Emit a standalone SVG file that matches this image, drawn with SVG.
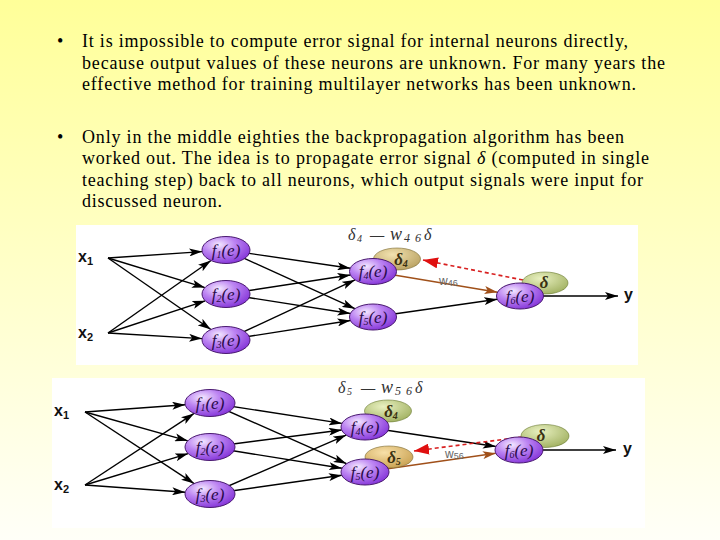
<svg xmlns="http://www.w3.org/2000/svg" width="720" height="540" viewBox="0 0 720 540">
<defs>
  <linearGradient id="bg" x1="0" y1="0" x2="0" y2="1">
    <stop offset="0" stop-color="#FFFF99"/>
    <stop offset="0.45" stop-color="#FFFFC4"/>
    <stop offset="1" stop-color="#FFFFF8"/>
  </linearGradient>
  <radialGradient id="purple" cx="0.35" cy="0.3" r="0.75">
    <stop offset="0" stop-color="#F4E8FF"/>
    <stop offset="0.45" stop-color="#BC84F2"/>
    <stop offset="1" stop-color="#8434D8"/>
  </radialGradient>
  <radialGradient id="tan" cx="0.4" cy="0.3" r="0.75">
    <stop offset="0" stop-color="#F2E2B0"/>
    <stop offset="1" stop-color="#B8A060"/>
  </radialGradient>
  <radialGradient id="green" cx="0.4" cy="0.3" r="0.75">
    <stop offset="0" stop-color="#E8F0C0"/>
    <stop offset="1" stop-color="#A0B060"/>
  </radialGradient>
  <radialGradient id="orange" cx="0.4" cy="0.3" r="0.75">
    <stop offset="0" stop-color="#F8E0A8"/>
    <stop offset="1" stop-color="#C8A050"/>
  </radialGradient>
  <marker id="ab" markerUnits="userSpaceOnUse" markerWidth="14" markerHeight="8" refX="13" refY="4" orient="auto">
    <path d="M0,0 L13,4 L0,8 L3,4 z" fill="#000"/>
  </marker>
  <marker id="abr" markerUnits="userSpaceOnUse" markerWidth="14" markerHeight="8" refX="13" refY="4" orient="auto">
    <path d="M0,0 L13,4 L0,8 L3,4 z" fill="#A0501A"/>
  </marker>
  <marker id="ared" markerUnits="userSpaceOnUse" markerWidth="16" markerHeight="11" refX="15" refY="5.5" orient="auto">
    <path d="M0,0 L15,5.5 L0,11 z" fill="#E01010"/>
  </marker>
</defs>
<style>
  .txt { font-family: "Liberation Serif", "Times New Roman", serif; font-size: 18px; fill: #000; }
  .lbl { font-family: "Liberation Sans", Arial, sans-serif; font-weight: bold; font-size: 16px; fill: #111; }
  .fn { font-family: "Liberation Serif", serif; font-style: italic; font-size: 17px; fill: #2A0A4A; text-anchor: middle; }
  .dl { font-family: "Liberation Serif", serif; font-style: italic; font-weight: bold; font-size: 17px; fill: #3A3010; text-anchor: middle; }
  .form { font-family: "Liberation Serif", serif; font-style: italic; font-size: 16px; fill: #333; }
  .w { font-family: "Liberation Sans", sans-serif; font-size: 12px; fill: #666; }
  .node { fill: url(#purple); stroke: #4A1A70; stroke-width: 1; }
  .c { stroke: #000; stroke-width: 1.4; fill: none; marker-end: url(#ab); }
  .cb { stroke: #A0501A; stroke-width: 1.6; fill: none; marker-end: url(#abr); }
  .cr { stroke: #D82020; stroke-width: 1.6; fill: none; stroke-dasharray: 4 3; marker-end: url(#ared); }
</style>

<rect x="0" y="0" width="720" height="540" fill="url(#bg)"/>

<g id="text">
  <text class="txt" x="57" y="47">•</text>
  <text class="txt" x="82" y="47" textLength="546" lengthAdjust="spacing">It is impossible to compute error signal for internal neurons directly,</text>
  <text class="txt" x="82" y="69" textLength="583" lengthAdjust="spacing">because output values of these neurons are unknown. For many years the</text>
  <text class="txt" x="82" y="90" textLength="554" lengthAdjust="spacing">effective method for training multilayer networks has been unknown.</text>
  <text class="txt" x="57" y="143">•</text>
  <text class="txt" x="82" y="143" textLength="542" lengthAdjust="spacing">Only in the middle eighties the backpropagation algorithm has been</text>
  <text class="txt" x="82" y="164" textLength="567" lengthAdjust="spacing">worked out. The idea is to propagate error signal <tspan font-style="italic">δ</tspan> (computed in single</text>
  <text class="txt" x="82" y="186" textLength="561" lengthAdjust="spacing">teaching step) back to all neurons, which output signals were input for</text>
  <text class="txt" x="82" y="207" textLength="140" lengthAdjust="spacing">discussed neuron.</text>
</g>

<!-- Diagram 1 -->
<rect x="76" y="225" width="562" height="140" fill="#FFFFFF"/>
<g id="d1-connectors">
  <line class="c" x1="108" y1="258" x2="202.2" y2="251.6"/>
  <line class="c" x1="108" y1="258" x2="204.9" y2="287.6"/>
  <line class="c" x1="108" y1="258" x2="210.9" y2="329.5"/>
  <line class="c" x1="108" y1="333" x2="211" y2="260.5"/>
  <line class="c" x1="108" y1="333" x2="205.3" y2="300.8"/>
  <line class="c" x1="108" y1="333" x2="202.1" y2="338.6"/>
  <line class="c" x1="226" y1="250" x2="350.3" y2="268.2"/>
  <line class="c" x1="226" y1="250" x2="354.9" y2="308.7"/>
  <line class="c" x1="226" y1="294" x2="350.4" y2="275"/>
  <line class="c" x1="226" y1="294" x2="350.4" y2="313.5"/>
  <line class="c" x1="226" y1="340" x2="355" y2="279.9"/>
  <line class="c" x1="226" y1="340" x2="350.4" y2="320.5"/>
  <line class="cb" x1="373" y1="271.5" x2="497.5" y2="292.2"/>
  <line class="c" x1="373" y1="317" x2="497.2" y2="299.3"/>
  <line class="c" x1="520" y1="296" x2="618" y2="296"/>
  <line class="cr" x1="523" y1="280" x2="423" y2="260"/>
  <text class="w" x="439" y="285">w<tspan font-size="9" dy="1">46</tspan></text>
</g>
<g id="d1-labels">
  <text class="lbl" x="78" y="262">x<tspan font-size="11" dy="3">1</tspan></text>
  <text class="lbl" x="78" y="338">x<tspan font-size="11" dy="3">2</tspan></text>
  <text class="lbl" x="624" y="300">y</text>
  <text class="form" y="240"><tspan x="348">δ</tspan><tspan x="357" font-size="10" dy="2">4</tspan><tspan x="370" dy="-2">—</tspan><tspan x="390" font-size="18">w</tspan><tspan x="404" font-size="12" dy="2" textLength="17">46</tspan><tspan x="424" dy="-2">δ</tspan></text>
</g>
<g id="d1-delta4">
  <ellipse cx="397" cy="259" rx="23.5" ry="11" fill="url(#tan)" stroke="#7A6A30" stroke-width="0.6"/>
  <text class="dl" x="401" y="265">δ<tspan font-size="10" dy="2">4</tspan></text>
</g>
<g id="d1-delta">
  <ellipse cx="545" cy="283" rx="23" ry="11" fill="url(#green)" stroke="#6A7A30" stroke-width="0.6"/>
  <text class="dl" x="544" y="288">δ</text>
</g>
<g id="d1-f1"><ellipse class="node" cx="226" cy="250" rx="24" ry="13.5"/><text class="fn" x="226" y="255.5">f<tspan font-size="10" dy="2">1</tspan><tspan dy="-2">(e)</tspan></text></g>
<g id="d1-f2"><ellipse class="node" cx="226" cy="294" rx="24" ry="13.5"/><text class="fn" x="226" y="299.5">f<tspan font-size="10" dy="2">2</tspan><tspan dy="-2">(e)</tspan></text></g>
<g id="d1-f3"><ellipse class="node" cx="226" cy="340" rx="24" ry="13.5"/><text class="fn" x="226" y="345.5">f<tspan font-size="10" dy="2">3</tspan><tspan dy="-2">(e)</tspan></text></g>
<g id="d1-f4"><ellipse class="node" cx="373" cy="271.5" rx="23.5" ry="13"/><text class="fn" x="373" y="277">f<tspan font-size="10" dy="2">4</tspan><tspan dy="-2">(e)</tspan></text></g>
<g id="d1-f5"><ellipse class="node" cx="373" cy="317" rx="23.5" ry="13"/><text class="fn" x="373" y="322.5">f<tspan font-size="10" dy="2">5</tspan><tspan dy="-2">(e)</tspan></text></g>
<g id="d1-f6"><ellipse class="node" cx="520" cy="296" rx="23.5" ry="13"/><text class="fn" x="520" y="301.5">f<tspan font-size="10" dy="2">6</tspan><tspan dy="-2">(e)</tspan></text></g>

<!-- Diagram 2 -->
<rect x="52" y="378" width="593" height="150" fill="#FFFFFF"/>
<g id="d2-connectors">
  <line class="c" x1="85" y1="412" x2="185.2" y2="404.8"/>
  <line class="c" x1="85" y1="412" x2="187.8" y2="440.8"/>
  <line class="c" x1="85" y1="412" x2="194.1" y2="483.6"/>
  <line class="c" x1="85" y1="485" x2="194.1" y2="413.4"/>
  <line class="c" x1="85" y1="485" x2="188.2" y2="453.6"/>
  <line class="c" x1="85" y1="485" x2="185.2" y2="492.2"/>
  <line class="c" x1="210" y1="403" x2="341.9" y2="423.4"/>
  <line class="c" x1="210" y1="403" x2="346.5" y2="463.7"/>
  <line class="c" x1="210" y1="447" x2="341.7" y2="430"/>
  <line class="c" x1="210" y1="447" x2="342" y2="468.3"/>
  <line class="c" x1="210" y1="494" x2="346.2" y2="435.1"/>
  <line class="c" x1="210" y1="494" x2="341.8" y2="475.3"/>
  <line class="c" x1="365" y1="427" x2="495.9" y2="446.5"/>
  <line class="cb" x1="365" y1="472" x2="495.8" y2="453.3"/>
  <line class="c" x1="519" y1="450" x2="616" y2="450"/>
  <line class="cr" x1="522" y1="437" x2="414" y2="451"/>
  <text class="w" x="445" y="458">w<tspan font-size="9" dy="1">56</tspan></text>
</g>
<g id="d2-labels">
  <text class="lbl" x="54" y="416">x<tspan font-size="11" dy="3">1</tspan></text>
  <text class="lbl" x="54" y="490">x<tspan font-size="11" dy="3">2</tspan></text>
  <text class="lbl" x="623" y="454">y</text>
  <text class="form" y="393"><tspan x="338">δ</tspan><tspan x="347" font-size="10" dy="2">5</tspan><tspan x="361" dy="-2">—</tspan><tspan x="381" font-size="18">w</tspan><tspan x="395" font-size="12" dy="2" textLength="17">56</tspan><tspan x="415" dy="-2">δ</tspan></text>
</g>
<g id="d2-delta4">
  <ellipse cx="388" cy="411" rx="23.5" ry="11" fill="url(#green)" stroke="#6A7A30" stroke-width="0.6"/>
  <text class="dl" x="391" y="417">δ<tspan font-size="10" dy="2">4</tspan></text>
</g>
<g id="d2-delta5">
  <ellipse cx="389" cy="457" rx="24" ry="11" fill="url(#orange)" stroke="#7A6A30" stroke-width="0.6"/>
  <text class="dl" x="394" y="463">δ<tspan font-size="10" dy="2">5</tspan></text>
</g>
<g id="d2-delta">
  <ellipse cx="545" cy="436" rx="24" ry="11.5" fill="url(#green)" stroke="#6A7A30" stroke-width="0.6"/>
  <text class="dl" x="541" y="441">δ</text>
</g>
<g id="d2-f1"><ellipse class="node" cx="210" cy="403" rx="25" ry="13.5"/><text class="fn" x="210" y="408.5">f<tspan font-size="10" dy="2">1</tspan><tspan dy="-2">(e)</tspan></text></g>
<g id="d2-f2"><ellipse class="node" cx="210" cy="447" rx="25" ry="13.5"/><text class="fn" x="210" y="452.5">f<tspan font-size="10" dy="2">2</tspan><tspan dy="-2">(e)</tspan></text></g>
<g id="d2-f3"><ellipse class="node" cx="210" cy="494" rx="25" ry="13.5"/><text class="fn" x="210" y="499.5">f<tspan font-size="10" dy="2">3</tspan><tspan dy="-2">(e)</tspan></text></g>
<g id="d2-f4"><ellipse class="node" cx="365" cy="427" rx="24" ry="13"/><text class="fn" x="365" y="432.5">f<tspan font-size="10" dy="2">4</tspan><tspan dy="-2">(e)</tspan></text></g>
<g id="d2-f5"><ellipse class="node" cx="365" cy="472" rx="24" ry="13"/><text class="fn" x="365" y="477.5">f<tspan font-size="10" dy="2">5</tspan><tspan dy="-2">(e)</tspan></text></g>
<g id="d2-f6"><ellipse class="node" cx="519" cy="450" rx="24" ry="13"/><text class="fn" x="519" y="455.5">f<tspan font-size="10" dy="2">6</tspan><tspan dy="-2">(e)</tspan></text></g>
</svg>
